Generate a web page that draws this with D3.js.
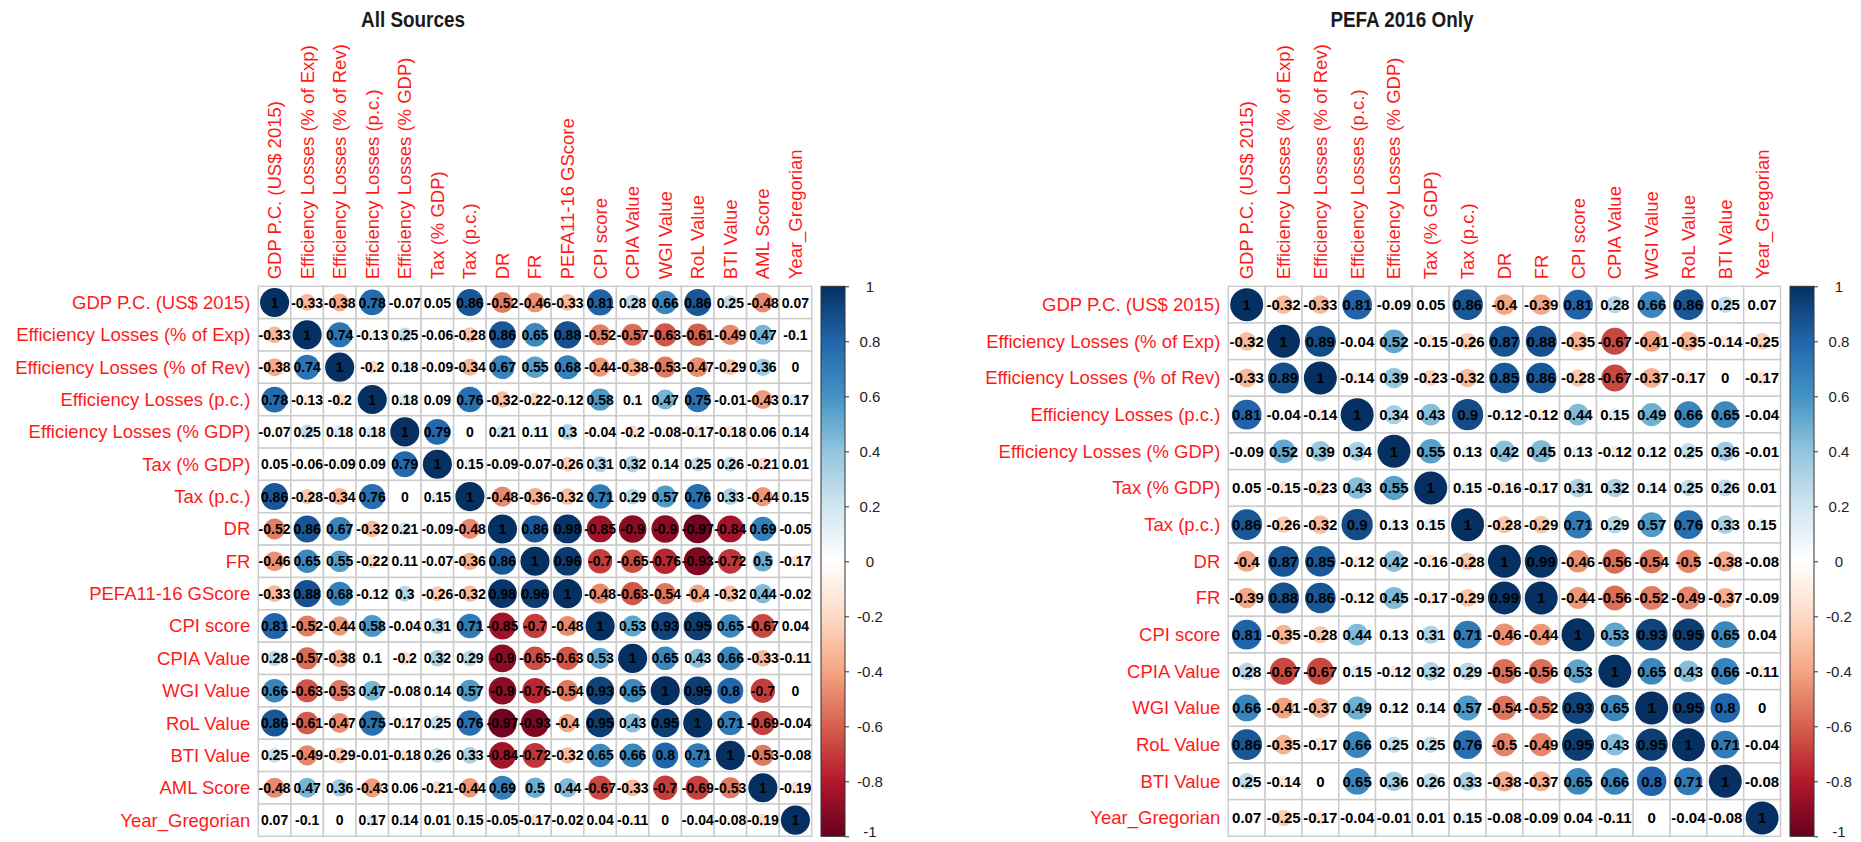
<!DOCTYPE html>
<html>
<head>
<meta charset="utf-8">
<script src="https://cdn.jsdelivr.net/npm/d3@7"></script>
<style>
  html, body { margin: 0; padding: 0; background: #ffffff; }
  svg { display: block; }
</style>
</head>
<body>
<svg id="chart" width="1861" height="842"></svg>
<script>
// Variable names, left panel (all sources)
const allSourcesVars = [
  "GDP P.C. (US$ 2015)", "Efficiency Losses (% of Exp)", "Efficiency Losses (% of Rev)",
  "Efficiency Losses (p.c.)", "Efficiency Losses (% GDP)", "Tax (% GDP)", "Tax (p.c.)",
  "DR", "FR", "PEFA11-16 GScore", "CPI score", "CPIA Value", "WGI Value", "RoL Value",
  "BTI Value", "AML Score", "Year_Gregorian"
];

// Pearson correlations, one row per variable
const allSourcesCorr = [
  [1, -0.33, -0.38, 0.78, -0.07, 0.05, 0.86, -0.52, -0.46, -0.33, 0.81, 0.28, 0.66, 0.86, 0.25, -0.48, 0.07],
  [-0.33, 1, 0.74, -0.13, 0.25, -0.06, -0.28, 0.86, 0.65, 0.88, -0.52, -0.57, -0.63, -0.61, -0.49, 0.47, -0.1],
  [-0.38, 0.74, 1, -0.2, 0.18, -0.09, -0.34, 0.67, 0.55, 0.68, -0.44, -0.38, -0.53, -0.47, -0.29, 0.36, 0],
  [0.78, -0.13, -0.2, 1, 0.18, 0.09, 0.76, -0.32, -0.22, -0.12, 0.58, 0.1, 0.47, 0.75, -0.01, -0.43, 0.17],
  [-0.07, 0.25, 0.18, 0.18, 1, 0.79, 0, 0.21, 0.11, 0.3, -0.04, -0.2, -0.08, -0.17, -0.18, 0.06, 0.14],
  [0.05, -0.06, -0.09, 0.09, 0.79, 1, 0.15, -0.09, -0.07, -0.26, 0.31, 0.32, 0.14, 0.25, 0.26, -0.21, 0.01],
  [0.86, -0.28, -0.34, 0.76, 0, 0.15, 1, -0.48, -0.36, -0.32, 0.71, 0.29, 0.57, 0.76, 0.33, -0.44, 0.15],
  [-0.52, 0.86, 0.67, -0.32, 0.21, -0.09, -0.48, 1, 0.86, 0.98, -0.85, -0.9, -0.9, -0.97, -0.84, 0.69, -0.05],
  [-0.46, 0.65, 0.55, -0.22, 0.11, -0.07, -0.36, 0.86, 1, 0.96, -0.7, -0.65, -0.76, -0.93, -0.72, 0.5, -0.17],
  [-0.33, 0.88, 0.68, -0.12, 0.3, -0.26, -0.32, 0.98, 0.96, 1, -0.48, -0.63, -0.54, -0.4, -0.32, 0.44, -0.02],
  [0.81, -0.52, -0.44, 0.58, -0.04, 0.31, 0.71, -0.85, -0.7, -0.48, 1, 0.53, 0.93, 0.95, 0.65, -0.67, 0.04],
  [0.28, -0.57, -0.38, 0.1, -0.2, 0.32, 0.29, -0.9, -0.65, -0.63, 0.53, 1, 0.65, 0.43, 0.66, -0.33, -0.11],
  [0.66, -0.63, -0.53, 0.47, -0.08, 0.14, 0.57, -0.9, -0.76, -0.54, 0.93, 0.65, 1, 0.95, 0.8, -0.7, 0],
  [0.86, -0.61, -0.47, 0.75, -0.17, 0.25, 0.76, -0.97, -0.93, -0.4, 0.95, 0.43, 0.95, 1, 0.71, -0.69, -0.04],
  [0.25, -0.49, -0.29, -0.01, -0.18, 0.26, 0.33, -0.84, -0.72, -0.32, 0.65, 0.66, 0.8, 0.71, 1, -0.53, -0.08],
  [-0.48, 0.47, 0.36, -0.43, 0.06, -0.21, -0.44, 0.69, 0.5, 0.44, -0.67, -0.33, -0.7, -0.69, -0.53, 1, -0.19],
  [0.07, -0.1, 0, 0.17, 0.14, 0.01, 0.15, -0.05, -0.17, -0.02, 0.04, -0.11, 0, -0.04, -0.08, -0.19, 1]
];

// Variable names, right panel (PEFA 2016 only)
const pefa2016Vars = [
  "GDP P.C. (US$ 2015)", "Efficiency Losses (% of Exp)", "Efficiency Losses (% of Rev)",
  "Efficiency Losses (p.c.)", "Efficiency Losses (% GDP)", "Tax (% GDP)", "Tax (p.c.)",
  "DR", "FR", "CPI score", "CPIA Value", "WGI Value", "RoL Value", "BTI Value", "Year_Gregorian"
];

const pefa2016Corr = [
  [1, -0.32, -0.33, 0.81, -0.09, 0.05, 0.86, -0.4, -0.39, 0.81, 0.28, 0.66, 0.86, 0.25, 0.07],
  [-0.32, 1, 0.89, -0.04, 0.52, -0.15, -0.26, 0.87, 0.88, -0.35, -0.67, -0.41, -0.35, -0.14, -0.25],
  [-0.33, 0.89, 1, -0.14, 0.39, -0.23, -0.32, 0.85, 0.86, -0.28, -0.67, -0.37, -0.17, 0, -0.17],
  [0.81, -0.04, -0.14, 1, 0.34, 0.43, 0.9, -0.12, -0.12, 0.44, 0.15, 0.49, 0.66, 0.65, -0.04],
  [-0.09, 0.52, 0.39, 0.34, 1, 0.55, 0.13, 0.42, 0.45, 0.13, -0.12, 0.12, 0.25, 0.36, -0.01],
  [0.05, -0.15, -0.23, 0.43, 0.55, 1, 0.15, -0.16, -0.17, 0.31, 0.32, 0.14, 0.25, 0.26, 0.01],
  [0.86, -0.26, -0.32, 0.9, 0.13, 0.15, 1, -0.28, -0.29, 0.71, 0.29, 0.57, 0.76, 0.33, 0.15],
  [-0.4, 0.87, 0.85, -0.12, 0.42, -0.16, -0.28, 1, 0.99, -0.46, -0.56, -0.54, -0.5, -0.38, -0.08],
  [-0.39, 0.88, 0.86, -0.12, 0.45, -0.17, -0.29, 0.99, 1, -0.44, -0.56, -0.52, -0.49, -0.37, -0.09],
  [0.81, -0.35, -0.28, 0.44, 0.13, 0.31, 0.71, -0.46, -0.44, 1, 0.53, 0.93, 0.95, 0.65, 0.04],
  [0.28, -0.67, -0.67, 0.15, -0.12, 0.32, 0.29, -0.56, -0.56, 0.53, 1, 0.65, 0.43, 0.66, -0.11],
  [0.66, -0.41, -0.37, 0.49, 0.12, 0.14, 0.57, -0.54, -0.52, 0.93, 0.65, 1, 0.95, 0.8, 0],
  [0.86, -0.35, -0.17, 0.66, 0.25, 0.25, 0.76, -0.5, -0.49, 0.95, 0.43, 0.95, 1, 0.71, -0.04],
  [0.25, -0.14, 0, 0.65, 0.36, 0.26, 0.33, -0.38, -0.37, 0.65, 0.66, 0.8, 0.71, 1, -0.08],
  [0.07, -0.25, -0.17, -0.04, -0.01, 0.01, 0.15, -0.08, -0.09, 0.04, -0.11, 0, -0.04, -0.08, 1]
];

const panelTitles = ["All Sources", "PEFA 2016 Only"];

// Colour legend ticks
const legendTicks = [1, 0.8, 0.6, 0.4, 0.2, 0, -0.2, -0.4, -0.6, -0.8, -1];

// Diverging red-blue palette, -1 .. 1
const paletteColors = ["#67001F", "#B2182B", "#D6604D", "#F4A582", "#FDDBC7", "#FFFFFF",
                       "#D1E5F0", "#92C5DE", "#4393C3", "#2166AC", "#053061"];
const color = d3.scaleLinear()
  .domain(d3.range(paletteColors.length).map(i => -1 + 2 * i / (paletteColors.length - 1)))
  .range(paletteColors)
  .interpolate(d3.interpolateRgb);

const svg = d3.select("#chart");
const labelFont = "'Liberation Sans', Arial, sans-serif";

const panels = [
  { vars: allSourcesVars, corr: allSourcesCorr, title: panelTitles[0],
    x0: 258.3, y0: 286.3, w: 553.4, h: 550, titleX: 413, barX: 821, numSize: 14 },
  { vars: pefa2016Vars, corr: pefa2016Corr, title: panelTitles[1],
    x0: 1228.3, y0: 286.3, w: 552.2, h: 550, titleX: 1402, barX: 1790, numSize: 15 }
];

const defs = svg.append("defs");

panels.forEach((p, pi) => {
  const g = svg.append("g");
  const xs = d3.scaleBand().domain(p.vars).range([p.x0, p.x0 + p.w]);
  const ys = d3.scaleBand().domain(p.vars).range([p.y0, p.y0 + p.h]);
  const cell = Math.min(xs.bandwidth(), ys.bandwidth());
  const rScale = d3.scaleSqrt().domain([0, 1]).range([0, 0.45 * cell]);

  // title, bold and slightly condensed
  g.append("text")
    .attr("transform", `translate(${p.titleX},27) scale(0.86,1)`)
    .attr("text-anchor", "middle")
    .style("font-family", labelFont)
    .style("font-weight", "bold")
    .style("font-size", "22px")
    .style("fill", "#1a1a1a")
    .text(p.title);

  // cells
  const cells = [];
  p.corr.forEach((row, i) => row.forEach((v, j) => cells.push({ r: p.vars[i], c: p.vars[j], v })));

  g.append("g").selectAll("rect").data(cells).join("rect")
    .attr("x", d => xs(d.c)).attr("y", d => ys(d.r))
    .attr("width", xs.bandwidth()).attr("height", ys.bandwidth())
    .attr("fill", "#ffffff")
    .attr("stroke", "#cccccc").attr("stroke-width", 1.5);

  g.append("g").selectAll("circle").data(cells).join("circle")
    .attr("cx", d => xs(d.c) + xs.bandwidth() / 2)
    .attr("cy", d => ys(d.r) + ys.bandwidth() / 2)
    .attr("r", d => rScale(Math.abs(d.v)))
    .attr("fill", d => color(d.v));

  g.append("g").selectAll("text").data(cells).join("text")
    .attr("x", d => xs(d.c) + xs.bandwidth() / 2)
    .attr("y", d => ys(d.r) + ys.bandwidth() / 2)
    .attr("dy", "0.36em")
    .attr("text-anchor", "middle")
    .style("font-family", labelFont)
    .style("font-weight", "bold")
    .style("font-size", p.numSize + "px")
    .style("fill", "#000000")
    .text(d => String(d.v));

  // row labels
  g.append("g").selectAll("text").data(p.vars).join("text")
    .attr("x", p.x0 - 8)
    .attr("y", d => ys(d) + ys.bandwidth() / 2)
    .attr("dy", "0.35em")
    .attr("text-anchor", "end")
    .style("font-family", labelFont)
    .style("font-size", "18.5px")
    .style("fill", "#ff1a1a")
    .text(d => d);

  // column labels
  g.append("g").selectAll("text").data(p.vars).join("text")
    .attr("transform", d => `translate(${xs(d) + xs.bandwidth() / 2},${p.y0 - 7}) rotate(-90)`)
    .attr("dy", "0.35em")
    .attr("text-anchor", "start")
    .style("font-family", labelFont)
    .style("font-size", "18.5px")
    .style("fill", "#ff1a1a")
    .text(d => d);

  // colour legend
  const gradId = "legendGrad" + pi;
  const grad = defs.append("linearGradient").attr("id", gradId)
    .attr("x1", 0).attr("y1", 1).attr("x2", 0).attr("y2", 0);
  paletteColors.forEach((c, k) => grad.append("stop")
    .attr("offset", k / (paletteColors.length - 1)).attr("stop-color", c));

  const barW = 24;
  const ly = d3.scaleLinear().domain([1, -1]).range([p.y0, p.y0 + p.h]);
  g.append("rect")
    .attr("x", p.barX).attr("y", p.y0)
    .attr("width", barW).attr("height", p.h)
    .attr("fill", `url(#${gradId})`)
    .attr("stroke", "#333333").attr("stroke-width", 1);

  const axis = d3.axisRight(ly).tickValues(legendTicks).tickSize(4).tickPadding(10)
    .tickFormat(d => String(d));
  const ag = g.append("g").attr("transform", `translate(${p.barX + barW},0)`).call(axis);
  ag.select(".domain").remove();
  ag.selectAll(".tick line").attr("stroke", "#333333");
  ag.selectAll(".tick text")
    .attr("text-anchor", "middle").attr("x", 25)
    .attr("y", d => (d === -1 ? -5 : 0))
    .style("font-family", labelFont).style("font-size", "15px").style("fill", "#222222");
});
</script>
</body>
</html>
